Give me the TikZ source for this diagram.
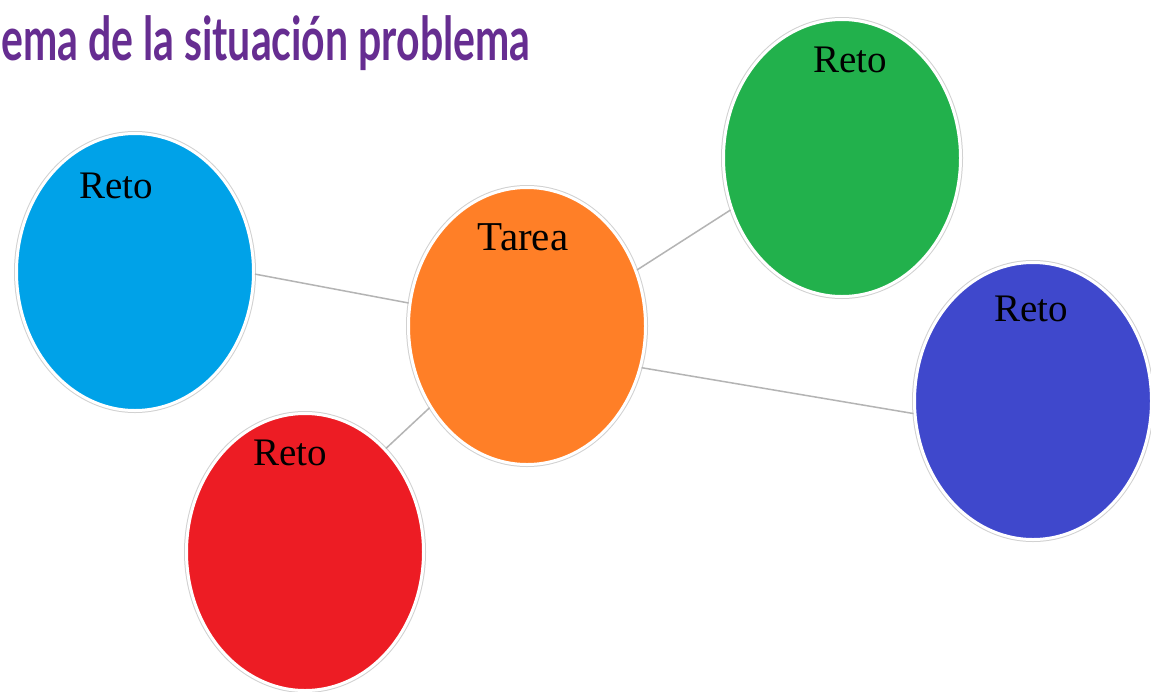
\documentclass[tikz,border=0pt]{standalone}
\usepackage{fontspec}
\usetikzlibrary{shapes.geometric}
\setmainfont{Liberation Serif}
\newfontfamily\titlefont{Lato}
\definecolor{cblue}{HTML}{00A2E8}
\definecolor{corange}{HTML}{FF7F27}
\definecolor{cgreen}{HTML}{22B14C}
\definecolor{cindigo}{HTML}{3F48CC}
\definecolor{cred}{HTML}{ED1C24}
\definecolor{ctitle}{HTML}{662D91}
\definecolor{cline}{HTML}{B4B4B4}
\tikzset{
  bubble/.style={ellipse, draw=white, line width=3pt, inner sep=0pt,
    minimum width=237pt, minimum height=277pt,
    preaction={draw=black!18, line width=5pt}},
  retotext/.style={anchor=base, inner sep=0pt, font=\fontsize{39}{44}\selectfont},
  link/.style={draw=cline, line width=1.5pt},
}
\begin{document}
\begin{tikzpicture}[x=1pt,y=-1pt]
\useasboundingbox (0,0) rectangle (1151,691);
\fill[white] (0,0) rectangle (1151,691);
% bubbles
\node[bubble, fill=cblue]   (b) at (135,272) {};
\node[bubble, fill=corange] (o) at (527,326) {};
\node[bubble, fill=cgreen]  (g) at (842,158) {};
\node[bubble, fill=cindigo] (i) at (1033,401) {};
\node[bubble, fill=cred]    (r) at (305,552) {};
% connectors
\draw[link] (b.-1) -- (o.169);
\draw[link] (o.27) -- (g.205);
\draw[link] (o.-20) -- (i.186);
\draw[link] (o.220) -- (r.52);
% texts
\node[retotext] (tb) at (116,198) {Reto};
\node[retotext] (tg) at (850,72) {Reto};
\node[retotext] (tr) at (290,465) {Reto};
\node[retotext] (ti) at (1031,321) {Reto};
\node[retotext, font=\fontsize{41}{46}\selectfont] (to) at (523,250) {Tarea};
% title
\node[anchor=base west, inner sep=0pt, text=ctitle] (title) at (1,60)
  {\resizebox*{529pt}{55pt}{\titlefont\bfseries ema de la situación problema}};
\end{tikzpicture}
\end{document}
